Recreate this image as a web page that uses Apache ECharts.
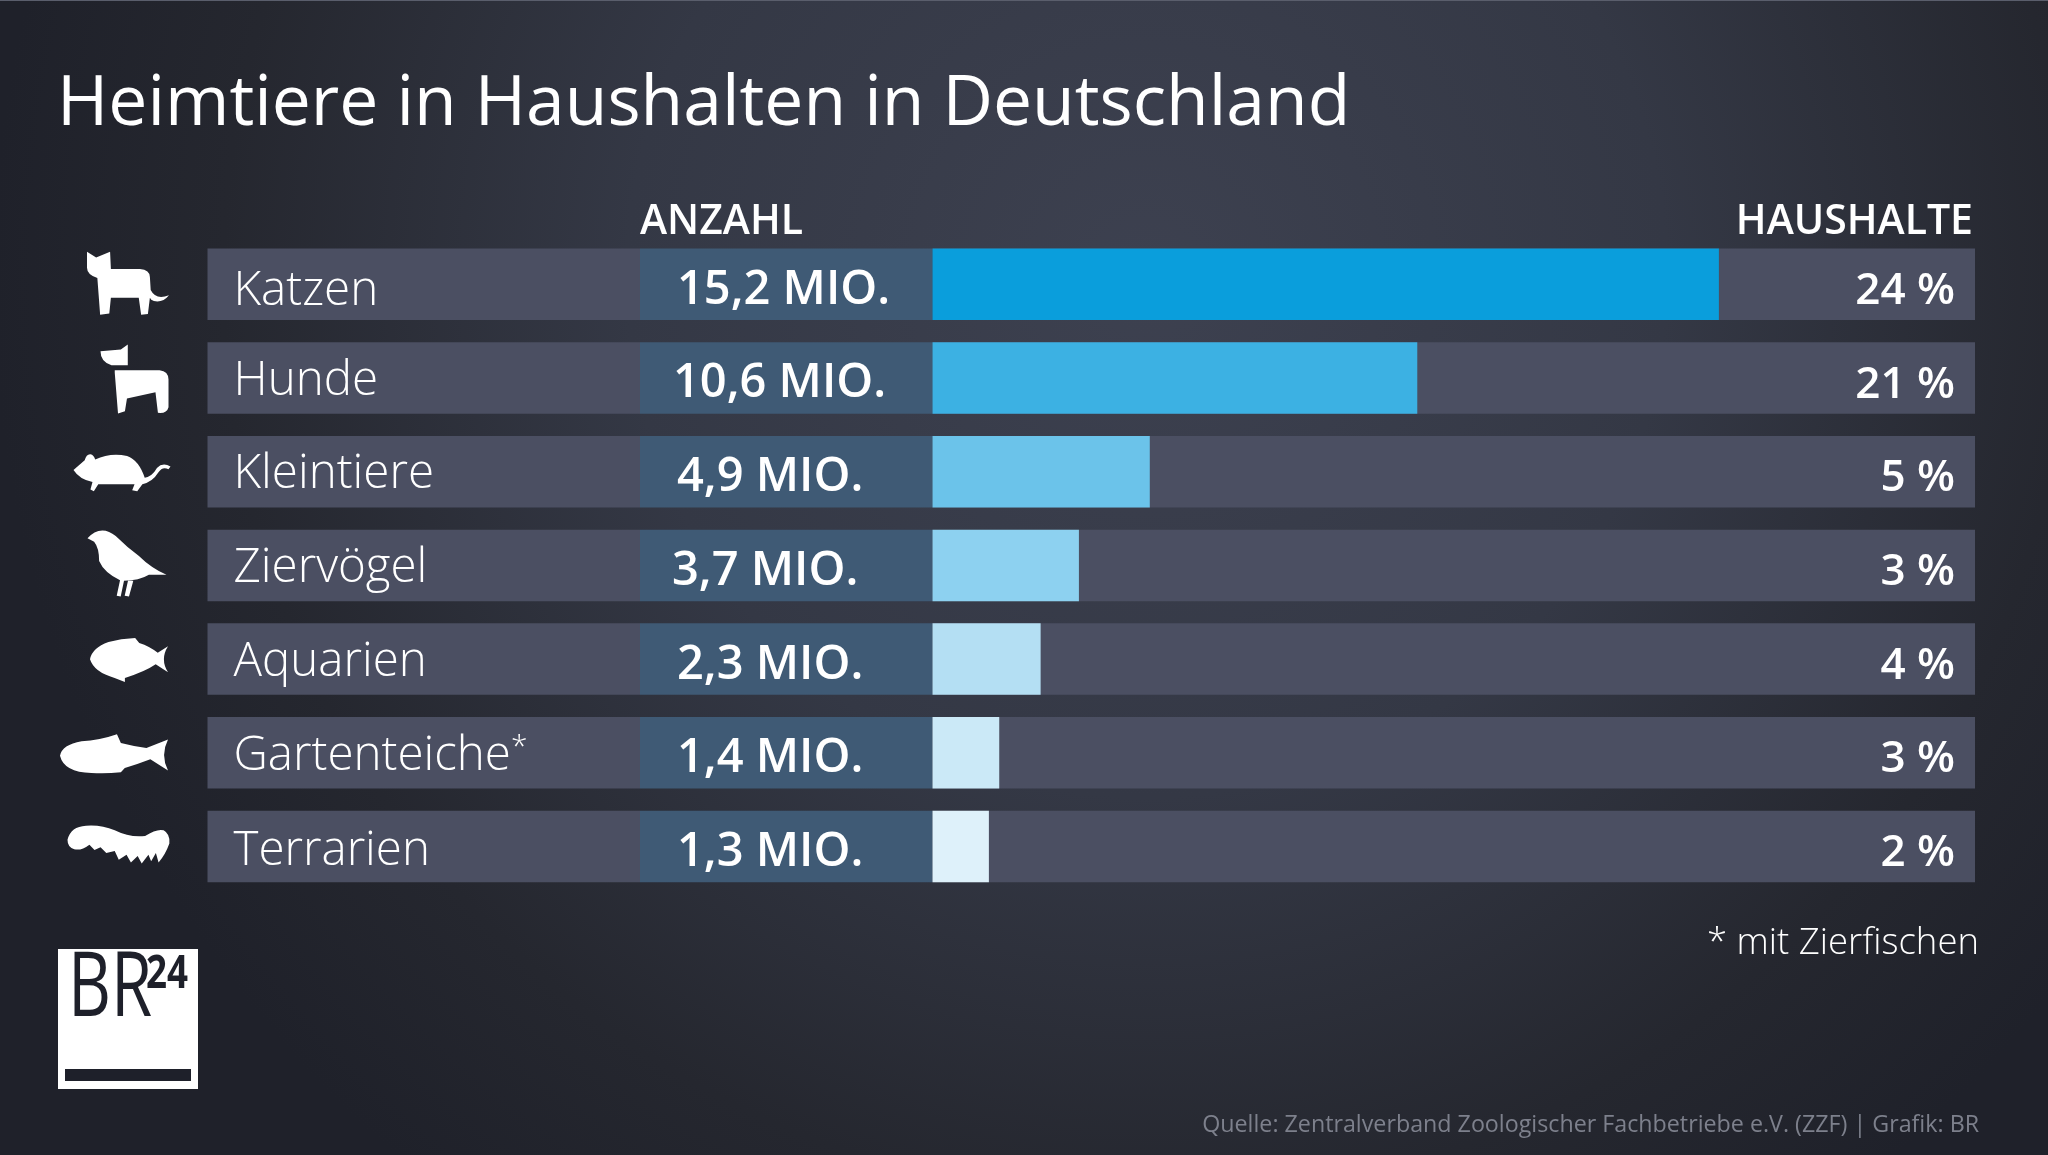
<!DOCTYPE html>
<html><head><meta charset="utf-8"><style>html,body{margin:0;padding:0;background:#23252f}#c{width:2048px;height:1155px}</style>
<script src="https://cdn.jsdelivr.net/npm/echarts@6/dist/echarts.min.js"></script></head>
<body><div id="c"></div>
<script>
const categories = ['Katzen','Hunde','Kleintiere','Ziervögel','Aquarien','Gartenteiche','Terrarien'];
const categoryMarks = ['','','','','','*',''];
const anzahlLabels = ['15,2 MIO.','10,6 MIO.','4,9 MIO.','3,7 MIO.','2,3 MIO.','1,4 MIO.','1,3 MIO.'];
const haushalteLabels = ['24 %','21 %','5 %','3 %','4 %','3 %','2 %'];
// bar lengths as drawn in the picture, on a scale where Katzen = 15.2
const barLengths = [15.2, 9.37, 4.2, 2.83, 2.09, 1.29, 1.09];
const barColors = ['#0a9edc','#3cb1e3','#6bc3ea','#8dd1f0','#b4dff3','#cbe9f7','#def1fa'];
const anzahlInset = [37, 33, 37, 32, 37, 37, 37];
const nameShift = [7, 3, 3, 3, 3, 4, 5];
const iconPaths = [
 'M122 188 L145 205 L180 188 L182 238 L255 238 Q280 240 280 262 L282 300 Q295 330 328 315 Q312 338 290 332 Q282 328 280 322 L275 370 L258 372 L252 322 L182 322 L178 368 L155 372 L148 265 Q122 255 122 235 Z',
 'M222 460 L222 522 L182 522 Q155 512 155 480 L205 475 Z M190 537 L300 537 Q322 540 322 565 L322 648 Q318 668 296 665 L290 603 L220 622 L215 660 L198 667 L190 545 Z',
 'M12 78 L45 50 Q50 32 62 33 Q72 35 76 48 Q120 28 170 38 Q205 50 222 100 Q245 95 258 72 Q275 55 298 68 L292 76 Q275 66 262 85 Q245 112 215 118 L200 138 L185 135 L192 118 L85 118 L72 138 L62 133 L68 112 Q30 105 12 78 Z',
 'M50 62 Q70 38 95 38 Q115 38 135 55 Q170 90 205 115 Q240 150 288 172 L235 172 Q205 190 160 190 L150 237 L138 235 L148 188 Q100 165 85 130 Q85 90 70 72 Z M172 190 L188 190 L175 237 L162 235 Z',
 'M130 175 Q135 140 175 122 Q205 112 240 110 L250 125 Q275 135 295 155 L320 135 Q300 175 320 215 L290 190 Q265 212 215 232 L215 245 L190 232 Q140 215 130 175 Z',
 'M50 462 Q55 430 105 420 Q150 418 195 400 L205 425 Q240 435 270 440 L325 415 Q305 460 325 505 L280 472 Q250 485 215 498 L205 510 Q165 515 130 512 Q60 510 50 462 Z',
 'M20 65 Q30 30 75 28 Q120 25 160 40 Q205 60 250 55 Q285 35 305 40 Q325 50 322 75 Q310 105 290 125 L282 100 L268 122 L260 105 L240 128 L228 108 L208 125 L195 105 L172 118 L160 95 L135 100 L118 85 L100 92 L85 78 Q60 95 40 90 Q20 85 20 65 Z'
];
const iconCenterX = [128, 134.5, 122, 127, 129, 114, 118.5];
const iconSizes = [[82,63],[68,69],[97,37],[79,66],[78,44],[108,39],[102,38]];
const iconShiftY = [-1, 1, 1, -2, 1, 1, -2];

const FONT = '"Open Sans"';
const W = 2048;
const band = {top:237.4, height:656};
const grids = [
 {left:207.5, width:432.5, ...band},
 {left:640, width:292.5, ...band},
 {left:932.5, width:1042.5, ...band},
 {left:0, width:207.5, ...band}
];
const yA = i => ({gridIndex:i, type:'category', data:categories, inverse:true, show:false});
const chart = echarts.init(document.getElementById('c'), null, {renderer:'canvas'});
chart.setOption({
 animation:false,
 backgroundColor:{type:'radial', x:0.56, y:0.24, r:1.0, colorStops:[
   {offset:0,color:'#3d4150'},{offset:0.45,color:'#343845'},{offset:0.8,color:'#25272f'},{offset:1,color:'#1f212a'}]},
 grid:grids,
 xAxis:[
  {gridIndex:0,type:'value',min:0,max:1,show:false},
  {gridIndex:1,type:'value',min:0,max:1,show:false},
  {gridIndex:2,type:'value',min:0,max:20.15,show:false},
  {gridIndex:3,type:'value',min:0,max:207.5,show:false}
 ],
 yAxis:[yA(0),yA(1),yA(2),yA(3)],
 series:[
  {type:'bar',xAxisIndex:0,yAxisIndex:0,barWidth:71.5,silent:true,
   data:categories.map((c,i)=>({value:1,label:{offset:[0,nameShift[i]]}})),itemStyle:{color:'#4b4f62'},
   label:{show:true,position:'insideLeft',distance:26,color:'#fff',fontFamily:FONT,fontWeight:300,fontSize:47.5,
     formatter:p=>categories[p.dataIndex]+(categoryMarks[p.dataIndex]?'{m|'+categoryMarks[p.dataIndex]+'}':''),
     rich:{m:{fontFamily:FONT,fontWeight:300,fontSize:30,color:'#fff',verticalAlign:'top',padding:[0,0,18,0]}}}},
  {type:'bar',xAxisIndex:1,yAxisIndex:1,barWidth:71.5,silent:true,
   data:categories.map((c,i)=>({value:1,label:{distance:anzahlInset[i]}})),itemStyle:{color:'#3f5a75'},
   label:{show:true,position:'insideLeft',color:'#fff',fontFamily:FONT,fontWeight:600,fontSize:47,offset:[0,6],
     formatter:p=>anzahlLabels[p.dataIndex]}},
  {type:'bar',xAxisIndex:2,yAxisIndex:2,barWidth:71.5,silent:true,
   showBackground:true,backgroundStyle:{color:'#4b4f62'},
   data:barLengths.map((v,i)=>({value:v,itemStyle:{color:barColors[i]}}))},
  {type:'scatter',xAxisIndex:2,yAxisIndex:2,silent:true,symbolSize:0,z:5,itemStyle:{opacity:1},
   data:haushalteLabels.map((t,i)=>[20.15,categories[i]]),
   label:{show:true,position:'left',distance:20,color:'#fff',fontFamily:FONT,fontWeight:600,fontSize:44,offset:[0,7],
     formatter:p=>haushalteLabels[p.dataIndex]}},
  {type:'scatter',xAxisIndex:3,yAxisIndex:3,silent:true,z:5,
   itemStyle:{color:'#fff',opacity:1},
   data:categories.map((c,i)=>({value:[iconCenterX[i],c],symbol:'path://'+iconPaths[i],symbolSize:iconSizes[i],symbolOffset:[0,iconShiftY[i]]}))}
 ],
 graphic:[
  {type:'rect',left:0,top:0,shape:{width:W,height:1},style:{fill:'#5a5e6c'}},
  {type:'text',left:57,top:70,style:{text:'Heimtiere in Haushalten in Deutschland',fill:'#fff',font:'400 69.6px '+FONT}},
  {type:'text',left:640,top:202,style:{text:'ANZAHL',fill:'#fff',font:'600 41px '+FONT}},
  {type:'text',right:75,top:202,style:{text:'HAUSHALTE',fill:'#fff',font:'600 41px '+FONT}},
  {type:'text',right:69,top:925,style:{text:'* mit Zierfischen',fill:'#fff',font:'300 36.5px '+FONT}},
  {type:'text',right:69,top:1114,style:{text:'Quelle: Zentralverband Zoologischer Fachbetriebe e.V. (ZZF) | Grafik: BR',fill:'#7d808c',font:'400 23.25px '+FONT}},
  {type:'rect',left:58,top:949,shape:{width:140,height:140},style:{fill:'#fff'}},
  {type:'rect',left:65,top:1069,shape:{width:126,height:12},style:{fill:'#1e202a'}},
  {type:'text',x:68,y:945,scaleX:0.74,style:{text:'BR',fill:'#1e202a',font:'500 90px '+FONT}},
  {type:'text',x:146,y:952,scaleX:0.8,style:{text:'24',fill:'#1e202a',font:'700 46px '+FONT}}
 ]
});
</script></body></html>
